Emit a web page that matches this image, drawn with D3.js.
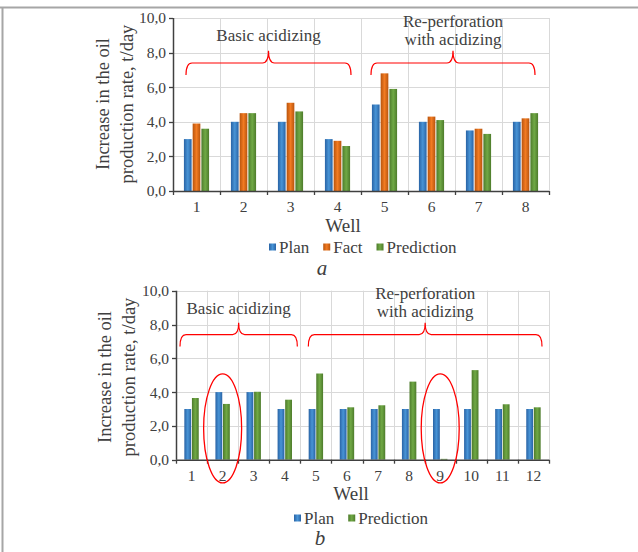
<!DOCTYPE html>
<html>
<head>
<meta charset="utf-8">
<script src="https://cdn.jsdelivr.net/npm/d3@7"></script>
<style>
  body { margin: 0; background: #fff; }
  text { font-family: "Liberation Serif", "Times New Roman", "DejaVu Serif", serif; fill: #404040; }
</style>
</head>
<body>
<div id="chart"></div>
<script>
// chart a
var wellsA = ["1", "2", "3", "4", "5", "6", "7", "8"];
var planA = [3.0, 4.0, 4.0, 3.0, 5.0, 4.0, 3.5, 4.0];
var factA = [3.9, 4.5, 5.1, 2.9, 6.8, 4.3, 3.6, 4.2];
var predA = [3.6, 4.5, 4.6, 2.6, 5.9, 4.1, 3.3, 4.5];

// chart b
var wellsB = ["1", "2", "3", "4", "5", "6", "7", "8", "9", "10", "11", "12"];
var planB = [3.0, 4.0, 4.0, 3.0, 3.0, 3.0, 3.0, 3.0, 3.0, 3.0, 3.0, 3.0];
var predB = [3.65, 3.3, 4.02, 3.55, 5.1, 3.1, 3.22, 4.62, 0.05, 5.3, 3.28, 3.1];

var yTicks = [0, 2, 4, 6, 8, 10];
var groupNames = [["Basic acidizing"], ["Re-perforation", "with acidizing"]];
var groupsA = [["1", "4"], ["5", "8"]];
var groupsB = [["1", "4"], ["5", "12"]];
var circledB = ["2", "9"];

var colors = {
  Plan: ["#2963a5", "#4894d6"],
  Fact: ["#b8540d", "#f27b22"],
  Prediction: ["#4d7b2b", "#70a945"]
};

var svg = d3.select("#chart").append("svg")
  .attr("width", 638)
  .attr("height", 552);

var defs = svg.append("defs");
Object.keys(colors).forEach(function(k) {
  var g = defs.append("linearGradient").attr("id", "grad-" + k)
    .attr("x1", 0).attr("x2", 1).attr("y1", 0).attr("y2", 0);
  g.append("stop").attr("offset", "0%").attr("stop-color", colors[k][0]);
  g.append("stop").attr("offset", "50%").attr("stop-color", colors[k][1]);
  g.append("stop").attr("offset", "100%").attr("stop-color", colors[k][0]);
});

// frame
svg.append("line").attr("x1", 0).attr("x2", 638).attr("y1", 7.5).attr("y2", 7.5)
  .attr("stroke", "#a6a6a6").attr("stroke-width", 2);
svg.append("line").attr("x1", 2.5).attr("x2", 2.5).attr("y1", 7).attr("y2", 552)
  .attr("stroke", "#a6a6a6").attr("stroke-width", 2);

function brace(g, x1, x2, tip, yEnd, yH, yTip) {
  var r = 6;
  var d = "M" + x1 + "," + yEnd +
    " Q" + x1 + "," + yH + " " + (x1 + r) + "," + yH +
    " L" + (tip - r) + "," + yH +
    " Q" + tip + "," + yH + " " + tip + "," + yTip +
    " Q" + tip + "," + yH + " " + (tip + r) + "," + yH +
    " L" + (x2 - r) + "," + yH +
    " Q" + x2 + "," + yH + " " + x2 + "," + yEnd;
  g.append("path").attr("d", d).attr("fill", "none")
    .attr("stroke", "#ff0000").attr("stroke-width", 1.2);
}

function drawChart(opt) {
  var g = svg.append("g");
  var x = d3.scaleBand().domain(opt.wells).range([opt.left, opt.right]).paddingInner(0);
  var y = d3.scaleLinear().domain([0, 10]).range([opt.bottom, opt.top]);
  var sub = d3.scaleBand().domain(opt.series.map(function(s) { return s.name; }))
    .range([0, x.bandwidth()]).paddingInner(opt.inner).paddingOuter(opt.outer);

  // grid
  g.selectAll(".hgrid").data(yTicks.slice(1)).enter().append("line")
    .attr("x1", opt.left).attr("x2", opt.right)
    .attr("y1", function(d) { return Math.round(y(d)) + 0.5; })
    .attr("y2", function(d) { return Math.round(y(d)) + 0.5; })
    .attr("stroke", "#d9d9d9");
  var bounds = opt.wells.map(function(w) { return x(w); }).concat([opt.right]);
  g.selectAll(".vgrid").data(bounds.slice(1)).enter().append("line")
    .attr("x1", function(d) { return Math.round(d) + 0.5; })
    .attr("x2", function(d) { return Math.round(d) + 0.5; })
    .attr("y1", opt.top).attr("y2", opt.bottom)
    .attr("stroke", "#d9d9d9");

  // bars
  opt.series.forEach(function(s) {
    g.selectAll(".bar-" + s.name).data(s.values).enter().append("rect")
      .attr("x", function(d, i) { return x(opt.wells[i]) + sub(s.name); })
      .attr("width", sub.bandwidth())
      .attr("y", function(d) { return y(d); })
      .attr("height", function(d) { return y(0) - y(d); })
      .attr("fill", "url(#grad-" + s.name + ")");
  });

  // axes
  g.append("line").attr("x1", opt.left).attr("x2", opt.right)
    .attr("y1", opt.bottom + 0.5).attr("y2", opt.bottom + 0.5)
    .attr("stroke", "#404040").attr("stroke-width", 1.5);
  g.append("line").attr("x1", opt.left + 0.5).attr("x2", opt.left + 0.5)
    .attr("y1", opt.top).attr("y2", opt.bottom)
    .attr("stroke", "#404040").attr("stroke-width", 1.5);
  g.selectAll(".xtick").data(bounds).enter().append("line")
    .attr("x1", function(d) { return Math.round(d) + 0.5; })
    .attr("x2", function(d) { return Math.round(d) + 0.5; })
    .attr("y1", opt.bottom).attr("y2", opt.bottom + 4)
    .attr("stroke", "#404040").attr("stroke-width", 1.3);
  g.selectAll(".ytick").data(yTicks).enter().append("line")
    .attr("x1", opt.left - 4).attr("x2", opt.left)
    .attr("y1", function(d) { return Math.round(y(d)) + 0.5; })
    .attr("y2", function(d) { return Math.round(y(d)) + 0.5; })
    .attr("stroke", "#404040").attr("stroke-width", 1.3);
  g.selectAll(".ylab").data(yTicks).enter().append("text")
    .attr("x", opt.left - 7).attr("y", function(d) { return y(d); })
    .attr("dy", "0.35em").attr("text-anchor", "end")
    .style("font-size", "15.5px")
    .text(function(d) { return d3.format(".1f")(d).replace(".", ","); });
  g.selectAll(".xlab").data(opt.wells).enter().append("text")
    .attr("x", function(d) { return x(d) + x.bandwidth() / 2; })
    .attr("y", opt.bottom + 16).attr("dy", "0.35em").attr("text-anchor", "middle")
    .style("font-size", "15.5px")
    .text(function(d) { return d; });

  // axis titles
  g.append("text").attr("x", opt.wellX).attr("y", opt.bottom + 34).attr("dy", "0.35em")
    .attr("text-anchor", "middle").style("font-size", "19px").text("Well");
  var yt = g.append("text").attr("text-anchor", "middle").style("font-size", "18.5px")
    .attr("transform", "translate(" + opt.ytX + "," + opt.ytY + ") rotate(-90)");
  yt.append("tspan").attr("x", 0).attr("y", 0).attr("dy", "0.35em").text("Increase in the oil");
  yt.append("tspan").attr("x", 0).attr("y", 24).attr("dy", "0.35em").text("production rate, t/day");

  // braces + group labels
  opt.groups.forEach(function(gr, i) {
    var x1 = x(gr[0]) + opt.inset[i][0];
    var x2 = x(gr[1]) + x.bandwidth() - opt.inset[i][1];
    var tip = (x1 + x2) / 2;
    brace(g, x1, x2, tip, y(6.7), y(7.4), y(8.1));
    var lines = groupNames[i];
    lines.forEach(function(t, j) {
      g.append("text").attr("x", tip)
        .attr("y", y(lines.length === 1 ? 9.0 : 9.85 - j * 1.07))
        .attr("dy", "0.35em").attr("text-anchor", "middle")
        .style("font-size", "17px").text(t);
    });
  });

  // legend
  var lg = g.append("g");
  var lx = opt.legendX;
  opt.series.forEach(function(s) {
    lg.append("rect").attr("x", lx).attr("y", opt.legendY - 3.5).attr("width", 7).attr("height", 7)
      .attr("fill", "url(#grad-" + s.name + ")");
    var t = lg.append("text").attr("x", lx + 10).attr("y", opt.legendY).attr("dy", "0.35em")
      .style("font-size", "17px").text(s.name);
    lx += 10 + t.node().getComputedTextLength() + 14;
  });

  g.append("text").attr("x", opt.letterX).attr("y", opt.letterY).attr("dy", "0.35em")
    .attr("text-anchor", "middle").style("font-size", "21px").style("font-style", "italic")
    .text(opt.letter);

  return { x: x, y: y, g: g };
}

drawChart({
  wells: wellsA, left: 173, right: 549, top: 18, bottom: 191,
  inner: 0.12, outer: 1.25,
  series: [{ name: "Plan", values: planA }, { name: "Fact", values: factA }, { name: "Prediction", values: predA }],
  groups: groupsA, inset: [[13, 10], [10, 14]],
  wellX: 343, ytX: 103, ytY: 104,
  legendX: 269, legendY: 247, letter: "a", letterX: 322, letterY: 268
});

var cb = drawChart({
  wells: wellsB, left: 176, right: 549, top: 290.7, bottom: 459.7,
  inner: 0.1, outer: 1.1,
  series: [{ name: "Plan", values: planB }, { name: "Prediction", values: predB }],
  groups: groupsB, inset: [[4, 3], [8, 7]],
  wellX: 351, ytX: 105, ytY: 377,
  legendX: 294, legendY: 518, letter: "b", letterX: 320, letterY: 538
});

cb.g.selectAll(".circ").data(circledB).enter().append("ellipse")
  .attr("cx", function(d) { return cb.x(d) + cb.x.bandwidth() / 2; })
  .attr("cy", cb.y(1.85)).attr("rx", 19).attr("ry", 54.5)
  .attr("fill", "none").attr("stroke", "#ff0000").attr("stroke-width", 1.3);
</script>
</body>
</html>
